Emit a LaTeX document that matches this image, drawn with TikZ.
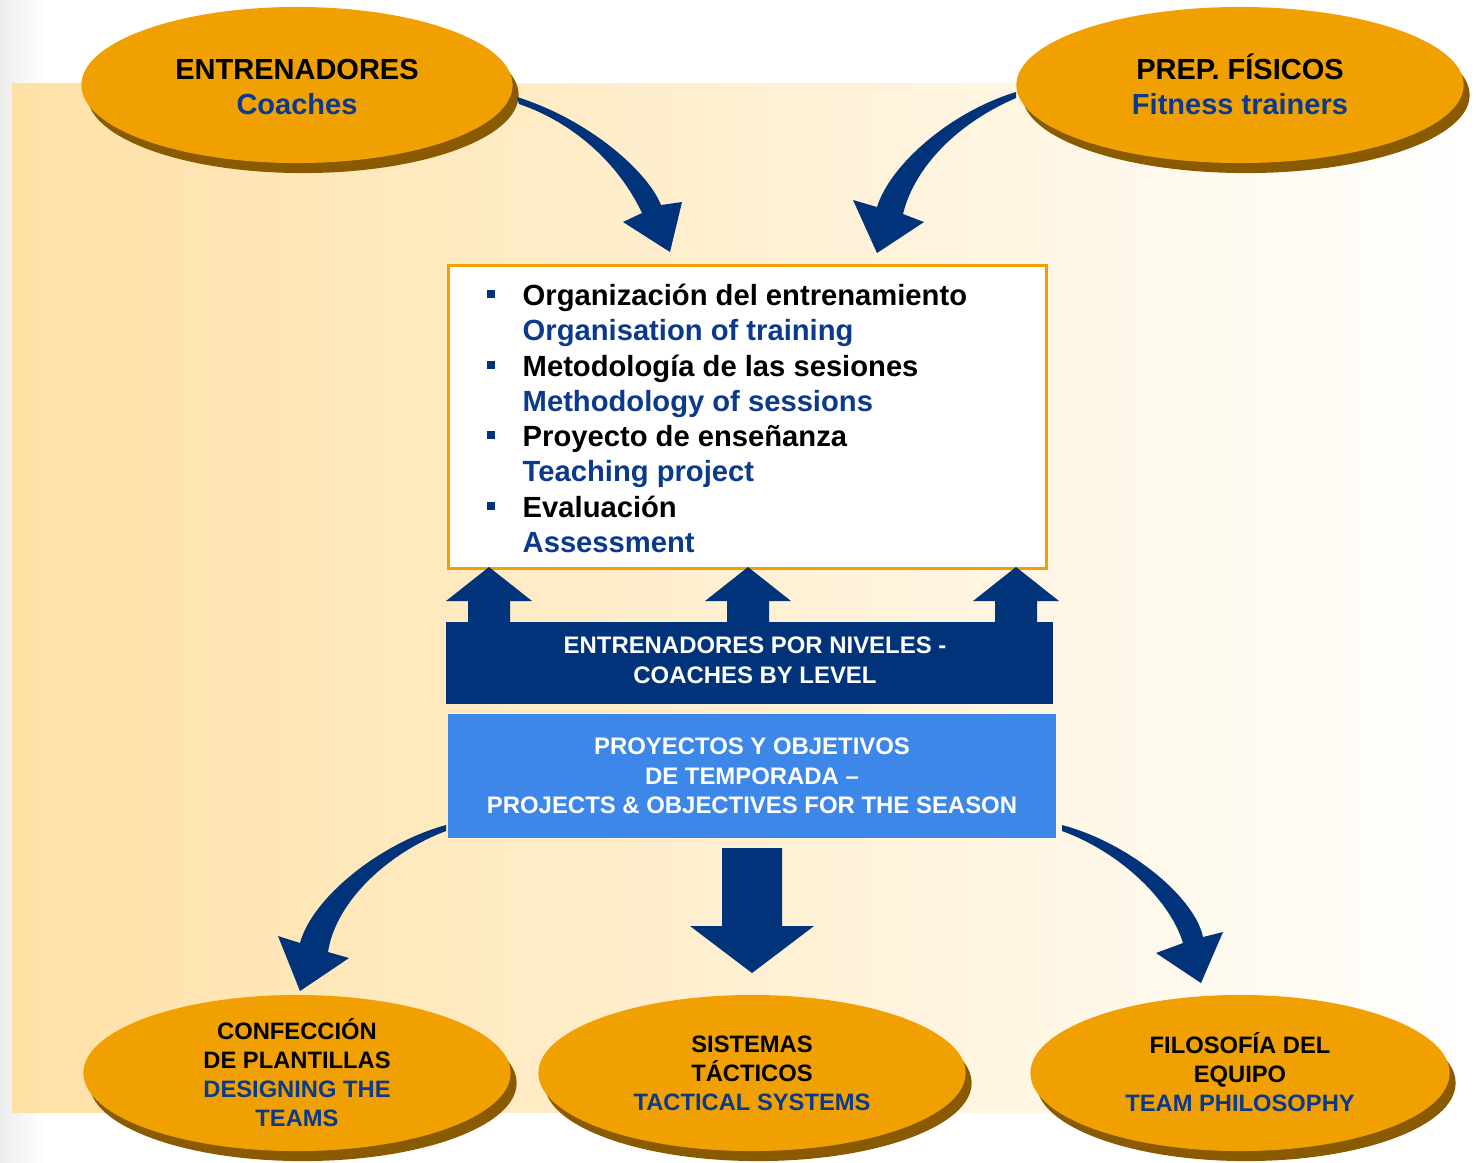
\documentclass[tikz,border=0pt]{standalone}
\usepackage{fontspec}
\setmainfont{Liberation Sans}
\usetikzlibrary{shapes.geometric, shadows}
\definecolor{ovalO}{HTML}{F0A000}
\definecolor{ovalS}{HTML}{8A5A00}
\definecolor{navyB}{HTML}{00337A}
\definecolor{skyB}{HTML}{3D87E8}
\definecolor{txtB}{HTML}{0B3A8C}
\definecolor{bgO}{HTML}{FFE1A6}

\begin{document}
\begin{tikzpicture}[x=0.01cm, y=-0.01cm, font=\bfseries,
  oval/.style={ellipse, fill=ovalO, inner sep=0pt, minimum width=#1, minimum height=1.56cm,
    drop shadow={opacity=1, fill=ovalS, shadow xshift=0.06cm, shadow yshift=-0.1cm}},
  bigtxt/.style={align=center, font=\fontsize{8.25}{9.96}\selectfont\bfseries},
  smalltxt/.style={align=center, font=\fontsize{6.75}{8.25}\selectfont\bfseries},
  bartxt/.style={align=center, text=white, font=\fontsize{6.8}{8.4}\selectfont\bfseries},
  listtxt/.style={anchor=base west, inner sep=0pt, font=\fontsize{8.3}{10}\selectfont\bfseries}]
  \useasboundingbox (0,0) rectangle (1476,1162);
  % background
  \fill[left color=black!7, right color=white] (0,0) rectangle (45,1162);
  \fill[left color=bgO, right color=white] (12,83) rectangle (1476,1112);

  % ovals
  \node[oval=4.31cm] (coach) at (297,85) {};
  \node[oval=4.47cm] (fit) at (1240,85) {};
  \node[oval=4.27cm] (squad) at (297,1073) {};
  \node[oval=4.27cm] (tact) at (752,1073) {};
  \node[oval=4.19cm] (philo) at (1240,1073) {};
  \node[bigtxt] at ([yshift=-0.02cm]coach) {ENTRENADORES\\\textcolor{txtB}{Coaches}};
  \node[bigtxt] at ([yshift=0.01cm]fit) {PREP. FÍSICOS\\\textcolor{txtB}{Fitness trainers}};
  \node[smalltxt] at (squad) {CONFECCIÓN\\DE PLANTILLAS\\
    \textcolor{txtB}{DESIGNING THE}\\\textcolor{txtB}{TEAMS}};
  \node[smalltxt] at (tact) {SISTEMAS\\TÁCTICOS\\\textcolor{txtB}{TACTICAL SYSTEMS}};
  \node[smalltxt] at ([yshift=0.01cm]philo) {FILOSOFÍA DEL\\EQUIPO\\\textcolor{txtB}{TEAM PHILOSOPHY}};

  % central list box
  \node[draw=ovalO, line width=0.03cm, fill=white, minimum width=5.97cm, minimum height=3.02cm]
     (plan) at (747.5,417) {};
  \foreach \yy in {294,365,435,506}
     \fill[navyB] (487,\yy-4) rectangle (495,\yy+4);
  \foreach \yy/\txt/\cc in {305/Organización del entrenamiento/black,
     340/Organisation of training/txtB, 376/Metodología de las sesiones/black,
     411/Methodology of sessions/txtB, 446/Proyecto de enseñanza/black,
     481/Teaching project/txtB, 517/Evaluación/black, 552/Assessment/txtB}
     \node[listtxt, text=\cc] at (522,\yy) {\txt};

  % coaches by level + up arrows
  \node[fill=navyB, minimum width=6.07cm, minimum height=0.82cm] (lvl) at (749.5,663) {};
  \node[bartxt] at (755,660) {ENTRENADORES POR NIVELES -\\COACHES BY LEVEL};
  \foreach \cx in {489,748,1016}
     \fill[navyB] (\cx-43,601) -- (\cx,567) -- (\cx+43,601) -- (\cx+21,601)
        -- (\cx+21,623) -- (\cx-21,623) -- (\cx-21,601) -- cycle;

  % season projects + down arrow
  \node[fill=skyB, minimum width=6.08cm, minimum height=1.24cm, bartxt]
     (proj) at (752,776) {PROYECTOS Y OBJETIVOS\\DE TEMPORADA –\\PROJECTS \& OBJECTIVES FOR THE SEASON};
  \fill[navyB] (722,848) -- (782,848) -- (782,926) -- (814,926) -- (752,973)
     -- (690,926) -- (722,926) -- cycle;

  % curved arrows
  \fill[navyB] (517,97) .. controls (590,120) and (648,172) .. (661,205)
     -- (682,202) -- (670,252) -- (623,222) -- (642,213)
     .. controls (618,162) and (572,122) .. (519,104) -- cycle;
  \fill[navyB] (1016,92) .. controls (950,112) and (890,165) .. (877,207)
     -- (853,200) -- (877,253) -- (924,222) -- (903,214)
     .. controls (915,165) and (960,122) .. (1016,98) -- cycle;
  \fill[navyB] (446,825) .. controls (380,843) and (312,898) .. (300,943)
     -- (278,936) -- (300,991) -- (349,958) -- (328,952)
     .. controls (336,900) and (390,852) .. (446,831) -- cycle;
  \fill[navyB] (1062,825) .. controls (1130,843) and (1195,898) .. (1203,937)
     -- (1223,932) -- (1201,983) -- (1156,953) -- (1183,943)
     .. controls (1170,900) and (1120,852) .. (1062,831) -- cycle;
\end{tikzpicture}
\end{document}
